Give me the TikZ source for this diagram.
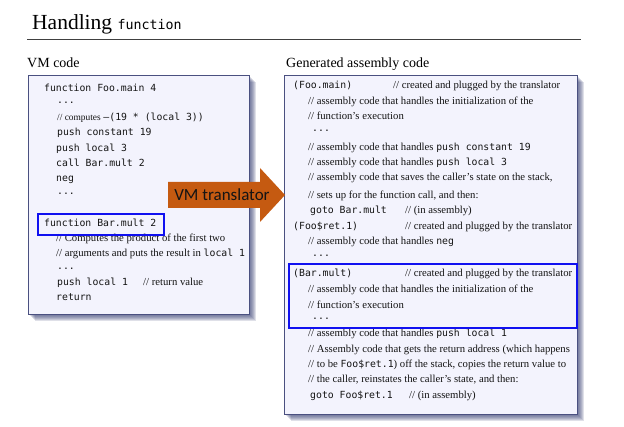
\documentclass[tikz,border=0pt]{standalone}
\usepackage{fontspec}
\setmainfont{Liberation Serif}
\newfontfamily\codefont{DejaVu Sans Mono}
\newfontfamily\labelfont{Carlito}
\newcommand{\vmc}[1]{{\codefont\fontsize{9.8}{12}\selectfont #1}}
\definecolor{boxfill}{HTML}{F3F3FD}
\definecolor{boxedge}{HTML}{4A5080}
\definecolor{shadowc}{HTML}{3A4276}
\definecolor{hilite}{HTML}{1010F0}
\definecolor{arrowc}{HTML}{C55A11}
\definecolor{ink}{HTML}{141414}
\begin{document}
\begin{tikzpicture}[x=1pt,y=-1pt,
  txt/.style={anchor=base west, inner sep=0pt, text=ink, font=\fontsize{10.7}{12}\selectfont},
  head/.style={anchor=base west, inner sep=0pt, text=black, font=\fontsize{14}{16}\selectfont},
  codebox/.style={draw=boxedge, line width=0.8pt, fill=boxfill, anchor=north west, inner sep=0pt},
  hibox/.style={draw=hilite, line width=2.2pt, anchor=north west, inner sep=0pt}]
\useasboundingbox[fill=white] (0,0) rectangle (624,427);

% title and rule
\node[anchor=base west, inner sep=0pt, font=\fontsize{21.5}{24}\selectfont] (title) at (32,30)
  {Handling {\codefont\fontsize{13.3}{16}\selectfont function}};
\draw[black!75, line width=1.3pt] (27,39.5) -- (581,39.5);

% headings
\node[head] (vmhead) at (27,68) {VM code};
\node[head] (asmhead) at (286,68) {Generated assembly code};

% soft shadows behind the two code panels
\foreach \d in {1,...,7}{
  \fill[shadowc, opacity=0.16] (28+\d,75+\d) rectangle (249+\d,314+\d);
  \fill[shadowc, opacity=0.16] (284+\d,75+\d) rectangle (577+\d,414+\d);
}

% code panels
\node[codebox, minimum width=221pt, minimum height=239pt] (vmbox) at (28,75) {};
\node[codebox, minimum width=293pt, minimum height=339pt] (asmbox) at (284,75) {};

% VM code
\node[txt] (v1) at (44,92) {\vmc{function Foo.main 4}};
\node[txt] (v2) at (57,104) {\vmc{...}};
\node[txt] (v3) at (57,121) {{\fontsize{9.4}{11}\selectfont // computes} \vmc{–(19 * (local 3))}};
\node[txt] (v4) at (57,136) {\vmc{push constant 19}};
\node[txt] (v5) at (56,152) {\vmc{push local 3}};
\node[txt] (v6) at (56,167) {\vmc{call Bar.mult 2}};
\node[txt] (v7) at (56,182) {\vmc{neg}};
\node[txt] (v8) at (57,195) {\vmc{...}};
\node[txt] (v9) at (44,227) {\vmc{function Bar.mult 2}};
\node[txt] (v10) at (56,242) {// Computes the product of the first two};
\node[txt] (v11) at (56,257) {// arguments and puts the result in \vmc{local 1}};
\node[txt] (v12) at (57,270) {\vmc{...}};
\node[txt] (v13) at (57,286) {\vmc{push local 1}};
\node[txt] (v13c) at (143,286) {// return value};
\node[txt] (v14) at (56,301) {\vmc{return}};

% assembly code
\node[txt] (a1) at (293,89) {\vmc{(Foo.main)}};
\node[txt] (a1c) at (393,89) {// created and plugged by the translator};
\node[txt] (a2) at (308,105) {// assembly code that handles the initialization of the};
\node[txt] (a3) at (308,120) {// function’s execution};
\node[txt] (a4) at (312,132) {\vmc{...}};
\node[txt] (a5) at (308,151) {// assembly code that handles \vmc{push constant 19}};
\node[txt] (a6) at (308,166) {// assembly code that handles \vmc{push local 3}};
\node[txt] (a7) at (308,181) {// assembly code that saves the caller’s state on the stack,};
\node[txt] (a8) at (308,199) {// sets up for the function call, and then:};
\node[txt] (a9) at (310,214) {\vmc{goto Bar.mult}};
\node[txt] (a9c) at (405,214) {// (in assembly)};
\node[txt] (a10) at (293,230) {\vmc{(Foo\$ret.1)}};
\node[txt] (a10c) at (405,230) {// created and plugged by the translator};
\node[txt] (a11) at (308,245) {// assembly code that handles \vmc{neg}};
\node[txt] (a12) at (312,257) {\vmc{...}};
\node[txt] (a13) at (293,277) {\vmc{(Bar.mult)}};
\node[txt] (a13c) at (405,277) {// created and plugged by the translator};
\node[txt] (a14) at (308,293) {// assembly code that handles the initialization of the};
\node[txt] (a15) at (308,309) {// function’s execution};
\node[txt] (a16) at (312,320) {\vmc{...}};
\node[txt] (a17) at (308,337) {// assembly code that handles \vmc{push local 1}};
\node[txt] (a18) at (308,353) {// Assembly code that gets the return address (which happens};
\node[txt] (a19) at (308,368) {// to be \vmc{Foo\$ret.1}) off the stack, copies the return value to};
\node[txt] (a20) at (308,383) {// the caller, reinstates the caller’s state, and then:};
\node[txt] (a21) at (310,399) {\vmc{goto Foo\$ret.1}};
\node[txt] (a21c) at (409,399) {// (in assembly)};

% highlighted function entries
\node[hibox, minimum width=126pt, minimum height=21pt] (hivm) at (37,213) {};
\node[hibox, minimum width=288pt, minimum height=64pt] (hiasm) at (288,263) {};

% translator arrow
\fill[arrowc] (168,182) -- (260,182) -- (260,168) -- (285,195) -- (260,222)
  -- (260,208) -- (168,208) -- cycle;
\node[inner sep=0pt, text=ink, font=\labelfont\fontsize{17}{20}\selectfont] (xlate) at (222,195) {VM translator};
\end{tikzpicture}
\end{document}
